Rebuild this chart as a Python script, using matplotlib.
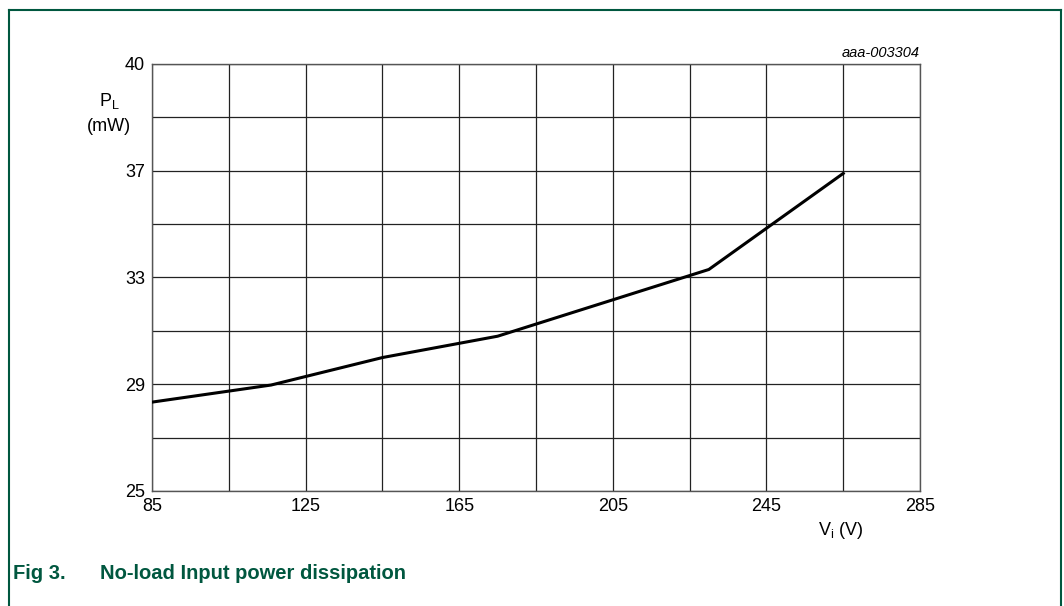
import matplotlib
matplotlib.use("Agg")
from matplotlib import pyplot as plt
from matplotlib.lines import Line2D

# data
vin = [85, 116, 145, 175, 230, 265]
power = [28.33, 28.97, 30.0, 30.8, 33.3, 36.9]

x_ticks = [85, 125, 165, 205, 245, 285]
y_ticks = [25, 29, 33, 37, 41]
y_tick_labels = ["25", "29", "33", "37", "40"]

green = "#00573f"
plt.rcParams["font.family"] = ["Liberation Sans", "DejaVu Sans"]

fig = plt.figure(figsize=(10.64, 6.06), dpi=100)
ax = fig.add_axes([0.1429, 0.1898, 0.7218, 0.7046])

ax.plot(vin, power, color="black", lw=2.2, solid_joinstyle="miter", zorder=3)

ax.set_xlim(85, 285)
ax.set_ylim(25, 41)
ax.set_xticks(x_ticks)
ax.set_xticks(range(85, 286, 20), minor=True)
ax.set_yticks(y_ticks)
ax.set_yticklabels(y_tick_labels)
ax.set_yticks(range(25, 42, 2), minor=True)
ax.grid(True, which="both", color="#222222", lw=0.9)
ax.tick_params(which="both", length=0, labelsize=13, pad=5)
for s in ax.spines.values():
    s.set_color("#555555")
    s.set_linewidth(1.0)

ax.text(1.0, 1.01, "aaa-003304", transform=ax.transAxes, ha="right", va="bottom",
        fontsize=10.5, style="italic")
fig.text(0.1025, 0.833, "P$_\\mathregular{L}$", fontsize=13, ha="center", va="center")
fig.text(0.1025, 0.792, "(mW)", fontsize=13, ha="center", va="center")
fig.text(0.790, 0.125, "V$_\\mathregular{i}$ (V)", fontsize=13, ha="center", va="center")

fig.text(0.012, 0.054, "Fig 3.", fontsize=14.5, fontweight="bold", color=green, va="center")
fig.text(0.094, 0.054, "No-load Input power dissipation", fontsize=14.5, fontweight="bold",
         color=green, va="center")

# green frame round the figure (no bottom edge)
x0, x1, yt = 9 / 1064, 1061 / 1064, 1 - 10 / 606
fig.add_artist(Line2D([x0, x1], [yt, yt], color=green, lw=1.5))
fig.add_artist(Line2D([x0, x0], [yt, 0], color=green, lw=1.5))
fig.add_artist(Line2D([x1, x1], [yt, 0], color=green, lw=1.5))

fig.savefig("out.png", dpi=100)
